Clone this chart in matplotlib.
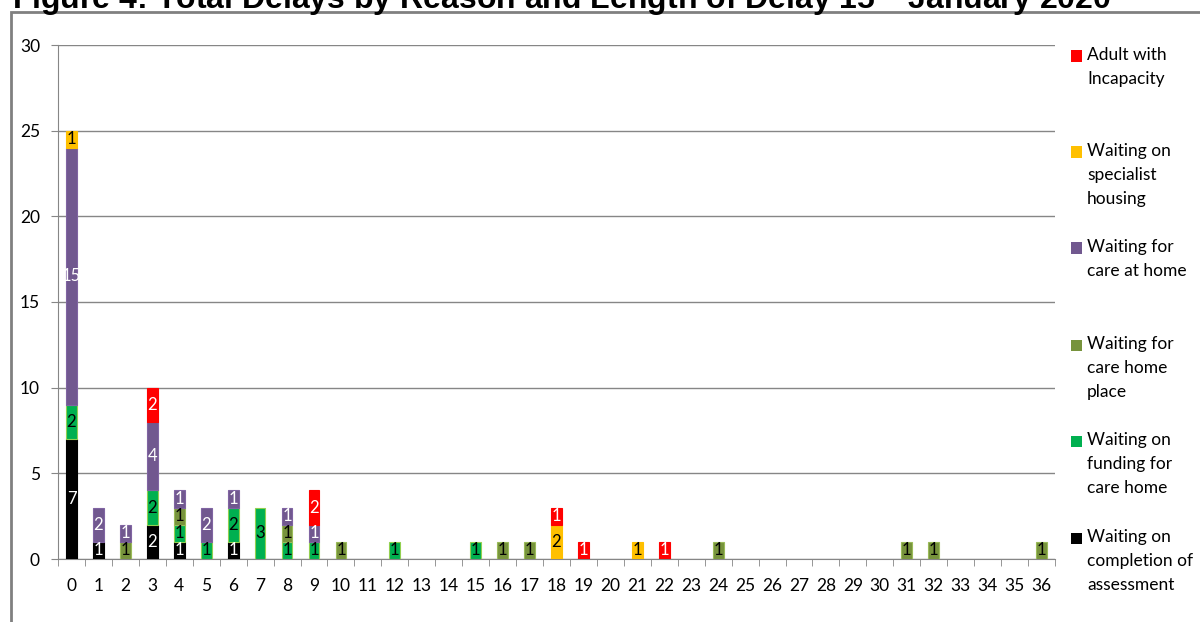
import matplotlib.pyplot as plt
import numpy as np
from matplotlib.patches import Rectangle

plt.rcParams['font.family'] = ['Lato', 'DejaVu Sans']

days = list(range(37))

# counts per day of delay, one list per reason (stacked bottom to top)
completion_of_assessment = [7, 1, 0, 2, 1, 0, 1, 0, 0, 0, 0, 0, 0, 0, 0, 0, 0, 0, 0,
                            0, 0, 0, 0, 0, 0, 0, 0, 0, 0, 0, 0, 0, 0, 0, 0, 0, 0]
funding_for_care_home = [2, 0, 0, 2, 1, 1, 2, 3, 1, 1, 0, 0, 1, 0, 0, 1, 0, 0, 0,
                         0, 0, 0, 0, 0, 0, 0, 0, 0, 0, 0, 0, 0, 0, 0, 0, 0, 0]
care_home_place = [0, 0, 1, 0, 1, 0, 0, 0, 1, 0, 1, 0, 0, 0, 0, 0, 1, 1, 0,
                   0, 0, 0, 0, 0, 1, 0, 0, 0, 0, 0, 0, 1, 1, 0, 0, 0, 1]
care_at_home = [15, 2, 1, 4, 1, 2, 1, 0, 1, 1, 0, 0, 0, 0, 0, 0, 0, 0, 0,
                0, 0, 0, 0, 0, 0, 0, 0, 0, 0, 0, 0, 0, 0, 0, 0, 0, 0]
specialist_housing = [1, 0, 0, 0, 0, 0, 0, 0, 0, 0, 0, 0, 0, 0, 0, 0, 0, 0, 2,
                      0, 0, 1, 0, 0, 0, 0, 0, 0, 0, 0, 0, 0, 0, 0, 0, 0, 0]
adult_with_incapacity = [0, 0, 0, 2, 0, 0, 0, 0, 0, 2, 0, 0, 0, 0, 0, 0, 0, 0, 1,
                         1, 0, 0, 1, 0, 0, 0, 0, 0, 0, 0, 0, 0, 0, 0, 0, 0, 0]

series = [
    ("Waiting on\ncompletion of\nassessment", completion_of_assessment, "#000000", "white", "#000000"),
    ("Waiting on\nfunding for\ncare home", funding_for_care_home, "#00B050", "black", "#92D050"),
    ("Waiting for\ncare home\nplace", care_home_place, "#77933C", "black", "#9BBB59"),
    ("Waiting for\ncare at home", care_at_home, "#71588F", "white", "#8064A2"),
    ("Waiting on\nspecialist\nhousing", specialist_housing, "#FFC000", "black", "#FFC000"),
    ("Adult with\nIncapacity", adult_with_incapacity, "#FF0000", "white", "#FF0000"),
]

fig = plt.figure(figsize=(12, 6.22), dpi=100)
ax = fig.add_axes([58 / 1200, 1 - 559 / 622, (1055 - 58) / 1200, (559 - 45) / 622])

x = np.array(days)
bottom = np.zeros(len(days))
for label, values, color, text_color, edge in series:
    values = np.array(values, dtype=float)
    keep = values > 0
    bars = ax.bar(x[keep], values[keep], width=0.4, bottom=bottom[keep], color=color,
                  edgecolor=edge, linewidth=0.8, label=label, zorder=3)
    labels = [str(int(v)) for v in values[keep]]
    ax.bar_label(bars, labels=labels, label_type='center', color=text_color,
                 fontsize=12, zorder=4)
    bottom += values

ax.set_xlim(-0.5, 36.5)
ax.set_ylim(0, 30)
ax.set_yticks(range(0, 31, 5))
ax.set_xticks(days)
ax.set_xticks(np.arange(-0.5, 37, 1), minor=True)
ax.tick_params(axis='x', which='major', length=0, pad=14, labelsize=12.5)
ax.tick_params(axis='x', which='minor', length=5, color='#868686')
ax.tick_params(axis='y', length=5, color='#868686', labelsize=12.5, pad=8)
ax.grid(axis='y', color='#868686', linewidth=1, zorder=0)
for side in ['top', 'right']:
    ax.spines[side].set_visible(False)
ax.spines['left'].set_color('#868686')
ax.spines['bottom'].set_color('#868686')

# legend on the right, entries evenly spaced as in the original
legend_tops = [56, 152, 248, 345, 441, 538]
for (label, values, color, text_color, edge), y in zip(reversed(series), legend_tops):
    fig.patches.append(Rectangle((1071 / 1200, 1 - (y + 5.5) / 622), 11 / 1200, 11 / 622,
                                 transform=fig.transFigure, facecolor=color,
                                 edgecolor='none'))
    fig.text(1087 / 1200, 1 - (y - 9) / 622, label, fontsize=12.5, va='top', ha='left',
             linespacing=1.62)

fig.patches.append(Rectangle((11 / 1200, -0.1), 1.2, 1.1 - 12 / 622, transform=fig.transFigure,
                             fill=False, edgecolor='#808080', linewidth=2))

fig.text(12 / 1200, 1 - 9 / 622,
         "Figure 4: Total Delays by Reason and Length of Delay 15$^{th}$ January 2020",
         fontsize=23, fontweight='bold', family='Liberation Sans', va='baseline', ha='left')

fig.savefig("out.png", dpi=100)
